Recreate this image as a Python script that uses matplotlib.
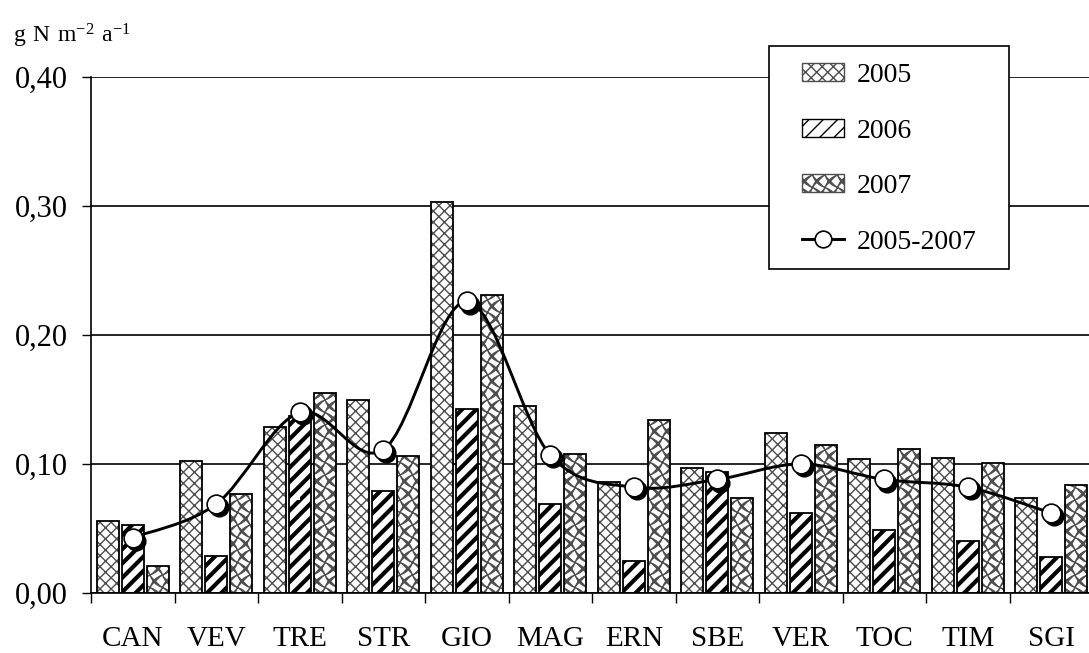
import warnings
import numpy as np
import matplotlib
matplotlib.use("Agg")
import matplotlib.pyplot as plt
import matplotlib.hatch as mhatch
from matplotlib.path import Path
from matplotlib.patches import PathPatch, Patch, Rectangle
from matplotlib.lines import Line2D
from matplotlib.transforms import ScaledTranslation

warnings.filterwarnings("ignore")

plt.rcParams['font.family'] = ['Liberation Serif', 'DejaVu Serif']
plt.rcParams['mathtext.fontset'] = 'custom'
plt.rcParams['mathtext.rm'] = 'Liberation Serif'

# data (g N m-2 a-1)
sites = ['CAN', 'VEV', 'TRE', 'STR', 'GIO', 'MAG', 'ERN', 'SBE', 'VER', 'TOC', 'TIM', 'SGI']
y2005 = [0.056, 0.102, 0.129, 0.150, 0.303, 0.145, 0.086, 0.097, 0.124, 0.104, 0.105, 0.074]
y2006 = [0.053, 0.029, 0.137, 0.079, 0.143, 0.069, 0.025, 0.094, 0.062, 0.049, 0.040, 0.028]
y2007 = [0.021, 0.077, 0.155, 0.106, 0.231, 0.108, 0.134, 0.074, 0.115, 0.112, 0.101, 0.084]
mean = [0.043, 0.069, 0.140, 0.111, 0.226, 0.107, 0.082, 0.088, 0.100, 0.088, 0.082, 0.062]
series_labels = ['2005', '2006', '2007', '2005-2007']


# custom hatches: '#' = fine cross, '~' = wavy cross, '!' = wide up-diagonal
def make_hatch(char, n, amp, k, both=True, npts=41):
    nfam = 2 if both else 1

    class _H(mhatch.HatchPatternBase):
        def __init__(self, hatch, density):
            self.num_lines = 2 * nfam * n if char in hatch else 0
            self.num_vertices = self.num_lines * npts

        def set_vertices_and_codes(self, vertices, codes):
            t = np.linspace(0, 1, npts)
            d = amp * np.sin(2 * np.pi * k * t) / np.sqrt(2)
            lines = []
            for c in np.arange(2 * n) / n - 1:
                lines.append(np.column_stack([t + c + d, t - d]))
            if both:
                for c in np.arange(2 * n) / n:
                    lines.append(np.column_stack([c - t + d, t + d]))
            vertices[:] = np.vstack(lines)
            cc = np.full(npts, Path.LINETO)
            cc[0] = Path.MOVETO
            codes[:] = np.tile(cc, len(lines))
    return _H


mhatch._validate_hatch_pattern = lambda h: None
mhatch._hatch_types.append(make_hatch('#', 9, 0.0, 1))
mhatch._hatch_types.append(make_hatch('~', 8, 0.022, 4))
mhatch._hatch_types.append(make_hatch('!', 7, 0.0, 1, both=False))

hatches = ['#', '!', '~']
hatch_cols = ['0.3', 'black', '0.3']
hatch_lws = [1.0, 3.0, 1.0]

fig = plt.figure(figsize=(10.89, 6.53), dpi=100)
ax = fig.add_axes([91 / 1089, 1 - 593 / 653, 1002 / 1089, 516 / 653])

x = np.arange(len(sites))
width = 0.26
for j, vals in enumerate([y2005, y2006, y2007]):
    xs = x + (j - 1) * 0.3
    bars = ax.bar(xs, vals, width, color='white', edgecolor=hatch_cols[j],
                  linewidth=0, hatch=hatches[j], zorder=2)
    for b in bars:
        if hasattr(b, 'set_hatch_linewidth'):
            b.set_hatch_linewidth(hatch_lws[j])
    ax.bar(xs, vals, width, fill=False, edgecolor='black', linewidth=1.3, zorder=3)

# smoothed line through the mean values (Bezier, like a spreadsheet "smoothed line")
pts = np.column_stack([x, mean])
ext = np.vstack([pts[0], pts, pts[-1]])
verts = [pts[0]]
codes = [Path.MOVETO]
for i in range(len(pts) - 1):
    p0, p1, p2, p3 = ext[i], ext[i + 1], ext[i + 2], ext[i + 3]
    verts += [p1 + (p2 - p0) / 6, p2 - (p3 - p1) / 6, p2]
    codes += [Path.CURVE4] * 3
ax.add_patch(PathPatch(Path(verts, codes), fill=False, edgecolor='black', lw=2.1, zorder=4))

shadow = ax.transData + ScaledTranslation(2.2 / 72, -2.2 / 72, fig.dpi_scale_trans)
ax.plot(x, mean, 'o', ms=13.5, mfc='black', mec='black', transform=shadow, zorder=5)
ax.plot(x, mean, 'o', ms=13.5, mfc='white', mec='black', mew=1.2, zorder=6)

ax.set_xlim(-0.5, 11.5)
ax.set_ylim(0, 0.40)
ax.set_yticks([0, 0.1, 0.2, 0.3, 0.4])
ax.set_yticklabels([f"{v:.2f}".replace('.', ',') for v in [0, 0.1, 0.2, 0.3, 0.4]])
ax.yaxis.grid(True, color='black', lw=1.2)
ax.set_axisbelow(True)
ax.tick_params(axis='y', length=6.5, width=1, pad=10.5, labelsize=22)

ax.set_xticks(x)
ax.set_xticklabels(sites)
ax.set_xticks(np.arange(-0.5, 12, 1), minor=True)
ax.tick_params(axis='x', which='major', length=0, pad=24, labelsize=21)
ax.tick_params(axis='x', which='minor', length=7.2, width=1)

for s in ['top', 'right']:
    ax.spines[s].set_visible(False)
for s in ['left', 'bottom']:
    ax.spines[s].set_linewidth(1.2)

fig.text(13 / 1089, 1 - 43 / 653, r'$\mathregular{g\ N\ m^{-2}\ a^{-1}}$',
         fontsize=17, va='baseline', ha='left')

# legend box
fig.add_artist(Rectangle((769 / 1089, 1 - 269 / 653), 240 / 1089, 223 / 653,
                         transform=fig.transFigure, facecolor='white',
                         edgecolor='black', lw=1.2, zorder=3))
handles = [Patch(facecolor='white', edgecolor=hatch_cols[j], hatch=hatches[j]) for j in range(3)]
handles.append(Line2D([], [], color='black', lw=2.1, marker='o', ms=12,
                      mfc='white', mec='black', mew=1.2))
fig.legend(handles, series_labels, loc='upper left',
           bbox_to_anchor=(802 / 1089, 1 - 63 / 653), frameon=False,
           borderpad=0, borderaxespad=0, handlelength=1.51, handleheight=0.6,
           handletextpad=0.47, labelspacing=1.1, fontsize=20)

fig.savefig('out.png', dpi=100)
